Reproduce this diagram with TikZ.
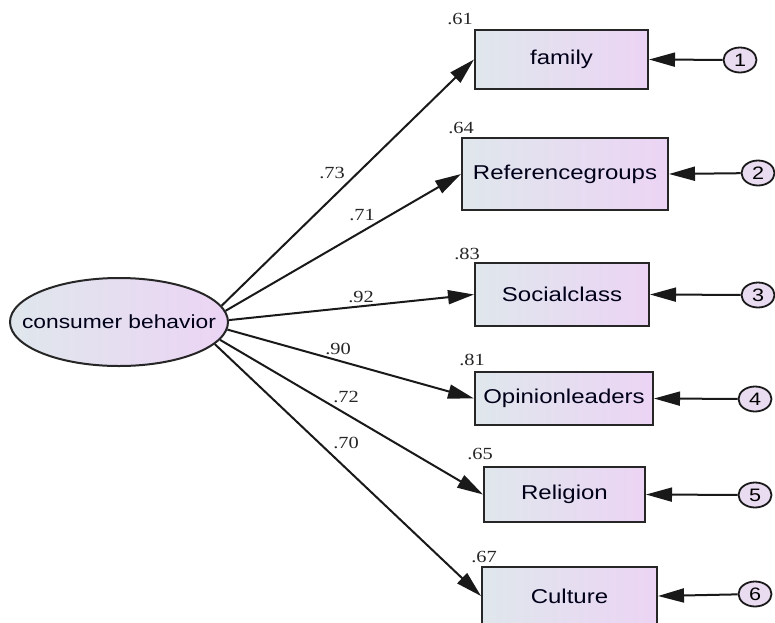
\documentclass[tikz,border=0pt]{standalone}
\usepackage{fontspec}
\setmainfont[FakeStretch=1.2]{Liberation Sans}
\newfontfamily\coeffont[FakeStretch=1.2]{Liberation Serif}
\usetikzlibrary{shapes.geometric, arrows.meta}

\definecolor{boxleft}{HTML}{DFE7EC}
\definecolor{boxright}{HTML}{ECD4F4}
\definecolor{errfill}{HTML}{E9DCF1}

\begin{document}
\begin{tikzpicture}[x=1pt, y=-1pt,
obs/.style={draw=black!85, line width=2pt, left color=boxleft, right color=boxright, font=\fontsize{20}{22}\selectfont, text=black!90!blue, inner sep=0pt},
err/.style={draw=black!90, ellipse, line width=1.8pt, fill=errfill, minimum width=33pt, minimum height=25pt, inner sep=0pt, font=\fontsize{18}{20}\selectfont},
coef/.style={font=\coeffont\fontsize{17}{19}\selectfont, text=black!85},
load/.style={line width=2pt, draw=black!90, -{Triangle[length=26pt,width=14pt]}}]
\useasboundingbox (0,0) rectangle (775,622);

% latent variable
\node [obs, ellipse, minimum width=218pt, minimum height=88pt,
  label={[font=\fontsize{19}{22}\selectfont, text=black!90!blue]center:consumer behavior}] (cb) at (119,322) {};

% observed variables
\node [obs, minimum width=173pt, minimum height=59pt] (fam) at (561.5,59.5) {family};
\node [obs, minimum width=206pt, minimum height=72pt] (ref) at (565,174) {Referencegroups};
\node [obs, minimum width=174pt, minimum height=63pt] (soc) at (562,294.5) {Socialclass};
\node [obs, minimum width=178pt, minimum height=53pt] (opi) at (564,398.5) {Opinionleaders};
\node [obs, minimum width=161pt, minimum height=55pt] (rel) at (564.5,494.5) {Religion};
\node [obs, minimum width=175pt, minimum height=58pt] (cul) at (569.5,596) {Culture};

% error terms
\node [err] (e1) at (740,60) {1};
\node [err] (e2) at (758,173) {2};
\node [err] (e3) at (758,295) {3};
\node [err] (e4) at (755,399) {4};
\node [err] (e5) at (755,495) {5};
\node [err] (e6) at (755,594) {6};

% squared multiple correlations
\node [coef] (r1) at (460,19) {.61};
\node [coef] (r2) at (461,128) {.64};
\node [coef] (r3) at (467,254) {.83};
\node [coef] (r4) at (472,360) {.81};
\node [coef] (r5) at (480,454) {.65};
\node [coef] (r6) at (484,557) {.67};

% loadings
\node [coef] (l1) at (332,173) {.73};
\node [coef] (l2) at (362,215) {.71};
\node [coef] (l3) at (361,297) {.92};
\node [coef] (l4) at (338,349) {.90};
\node [coef] (l5) at (346,397) {.72};
\node [coef] (l6) at (346,443) {.70};

\draw [load] (cb.9) -- (fam.west);
\draw [load] (cb.6) -- (ref.west);
\draw [load] (cb.1) -- (soc.west);
\draw [load] (cb.-4) -- (opi.west);
\draw [load] (cb.-10) -- (rel.west);
\draw [load] (cb.-13) -- (cul.west);

\draw [load] (e1) -- (fam.east);
\draw [load] (e2) -- (ref.east);
\draw [load] (e3) -- (soc.east);
\draw [load] (e4) -- (opi.east);
\draw [load] (e5) -- (rel.east);
\draw [load] (e6) -- (cul.east);
\end{tikzpicture}
\end{document}
